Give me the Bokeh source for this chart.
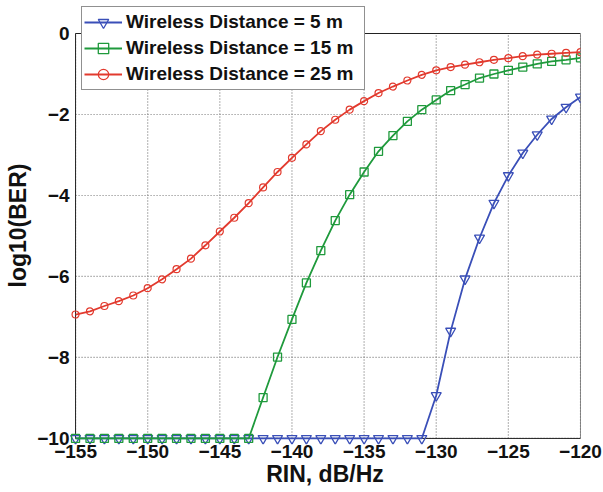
from bokeh.plotting import figure
from bokeh.models import Range1d, FixedTicker, Legend, LegendItem
from bokeh.embed import file_html
from bokeh.resources import INLINE

rin = list(range(-155, -119))

ber_5m = [-10.0] * 25 + [-8.94, -7.35, -6.06, -5.05, -4.19, -3.51, -2.95, -2.50, -2.11, -1.82, -1.57]
ber_15m = [-10.0] * 13 + [-8.99, -7.99, -7.06, -6.16, -5.36, -4.62, -3.98, -3.42, -2.91, -2.52,
                          -2.17, -1.88, -1.64, -1.41, -1.26, -1.10, -1.00, -0.91, -0.83, -0.75,
                          -0.69, -0.65, -0.60]
ber_25m = [-6.94, -6.86, -6.73, -6.61, -6.47, -6.29, -6.07, -5.82, -5.56, -5.23,
           -4.89, -4.55, -4.19, -3.80, -3.42, -3.07, -2.74, -2.41, -2.13, -1.88,
           -1.67, -1.47, -1.31, -1.16, -1.02, -0.91, -0.83, -0.77, -0.71, -0.65,
           -0.61, -0.56, -0.52, -0.50, -0.48, -0.46]

labels = ["Wireless Distance = 5 m", "Wireless Distance = 15 m", "Wireless Distance = 25 m"]
x_ticks = [-155, -150, -145, -140, -135, -130, -125, -120]
y_ticks = [-10, -8, -6, -4, -2, 0]
x_title = "RIN, dB/Hz"
y_title = "log10(BER)"

FONT = "Liberation Sans"
INK = "#111111"
EDGE = "#222222"
GRID = "#7a7a7a"

x0, x1 = x_ticks[0], x_ticks[-1]
y0, y1 = y_ticks[0], y_ticks[-1]

# the frame is padded a little beyond the plot box so that edge markers and
# the legend (which overlaps the box top) are not cut by the frame
p = figure(width=603, height=492, output_backend="svg", toolbar_location=None,
           x_range=Range1d(x0 - 0.42, x1), y_range=Range1d(y0 - 0.15, y1 + 0.667),
           min_border_left=69, min_border_right=23, min_border_top=6, min_border_bottom=48,
           x_axis_label=x_title, y_axis_label=y_title)
p.outline_line_color = None

for ax in (p.xaxis[0], p.yaxis[0]):
    ax.major_label_text_font = FONT
    ax.major_label_text_font_style = "bold"
    ax.major_label_text_font_size = "19px"
    ax.major_label_text_color = INK
    ax.axis_label_text_font = FONT
    ax.axis_label_text_font_style = "bold"
    ax.axis_label_text_font_size = "23px"
    ax.axis_label_text_color = INK
    ax.major_tick_out = 0
    ax.major_tick_in = 0
    ax.minor_tick_out = 0
    ax.minor_tick_in = 0
    ax.axis_line_color = None

p.xaxis[0].ticker = FixedTicker(ticks=x_ticks)
p.yaxis[0].ticker = FixedTicker(ticks=y_ticks)
p.xaxis[0].major_label_standoff = 0
p.xaxis[0].axis_label_standoff = 0
p.yaxis[0].major_label_standoff = 0
p.yaxis[0].axis_label_standoff = 3

# dotted grid, limited to the plot box
p.xgrid.visible = False
p.ygrid.visible = False
nx, ny = len(x_ticks), len(y_ticks)
p.segment(x0=x_ticks, y0=[y0] * nx, x1=x_ticks, y1=[y1] * nx,
          line_color=GRID, line_dash="1 2", line_width=1.2)
p.segment(x0=[x0] * ny, y0=y_ticks, x1=[x1] * ny, y1=y_ticks,
          line_color=GRID, line_dash="1 2", line_width=1.2)

# the box
p.line([x0, x1, x1, x0, x0], [y0, y0, y1, y1, y0], line_color=EDGE, line_width=1)

c5, c15, c25 = "#3a4fb8", "#1f9a3c", "#e23a2e"

l1 = p.line(rin, ber_5m, line_color=c5, line_width=1.8)
s1 = p.scatter(rin, ber_5m, marker="inverted_triangle", size=10, fill_color=None,
               line_color=c5, line_width=1.3)
l2 = p.line(rin, ber_15m, line_color=c15, line_width=1.8)
s2 = p.scatter(rin, ber_15m, marker="square", size=8, fill_color=None,
               line_color=c15, line_width=1.3)
l3 = p.line(rin, ber_25m, line_color=c25, line_width=1.8)
s3 = p.scatter(rin, ber_25m, marker="circle", size=7, fill_color=None,
               line_color=c25, line_width=1.2)

legend = Legend(items=[LegendItem(label=labels[0], renderers=[l1, s1]),
                       LegendItem(label=labels[1], renderers=[l2, s2]),
                       LegendItem(label=labels[2], renderers=[l3, s3])],
                location=(12, 354))
legend.label_text_font = FONT
legend.label_text_font_style = "bold"
legend.label_text_font_size = "19px"
legend.label_text_color = INK
legend.glyph_width = 38
legend.glyph_height = 26
legend.label_height = 26
legend.label_width = 236
legend.label_standoff = 4
legend.spacing = 0
legend.padding = 2
legend.margin = 0
legend.border_line_color = EDGE
legend.border_line_width = 1
legend.background_fill_color = "white"
legend.background_fill_alpha = 1
p.add_layout(legend, "center")

open("out.html", "w").write(file_html(p, INLINE))
